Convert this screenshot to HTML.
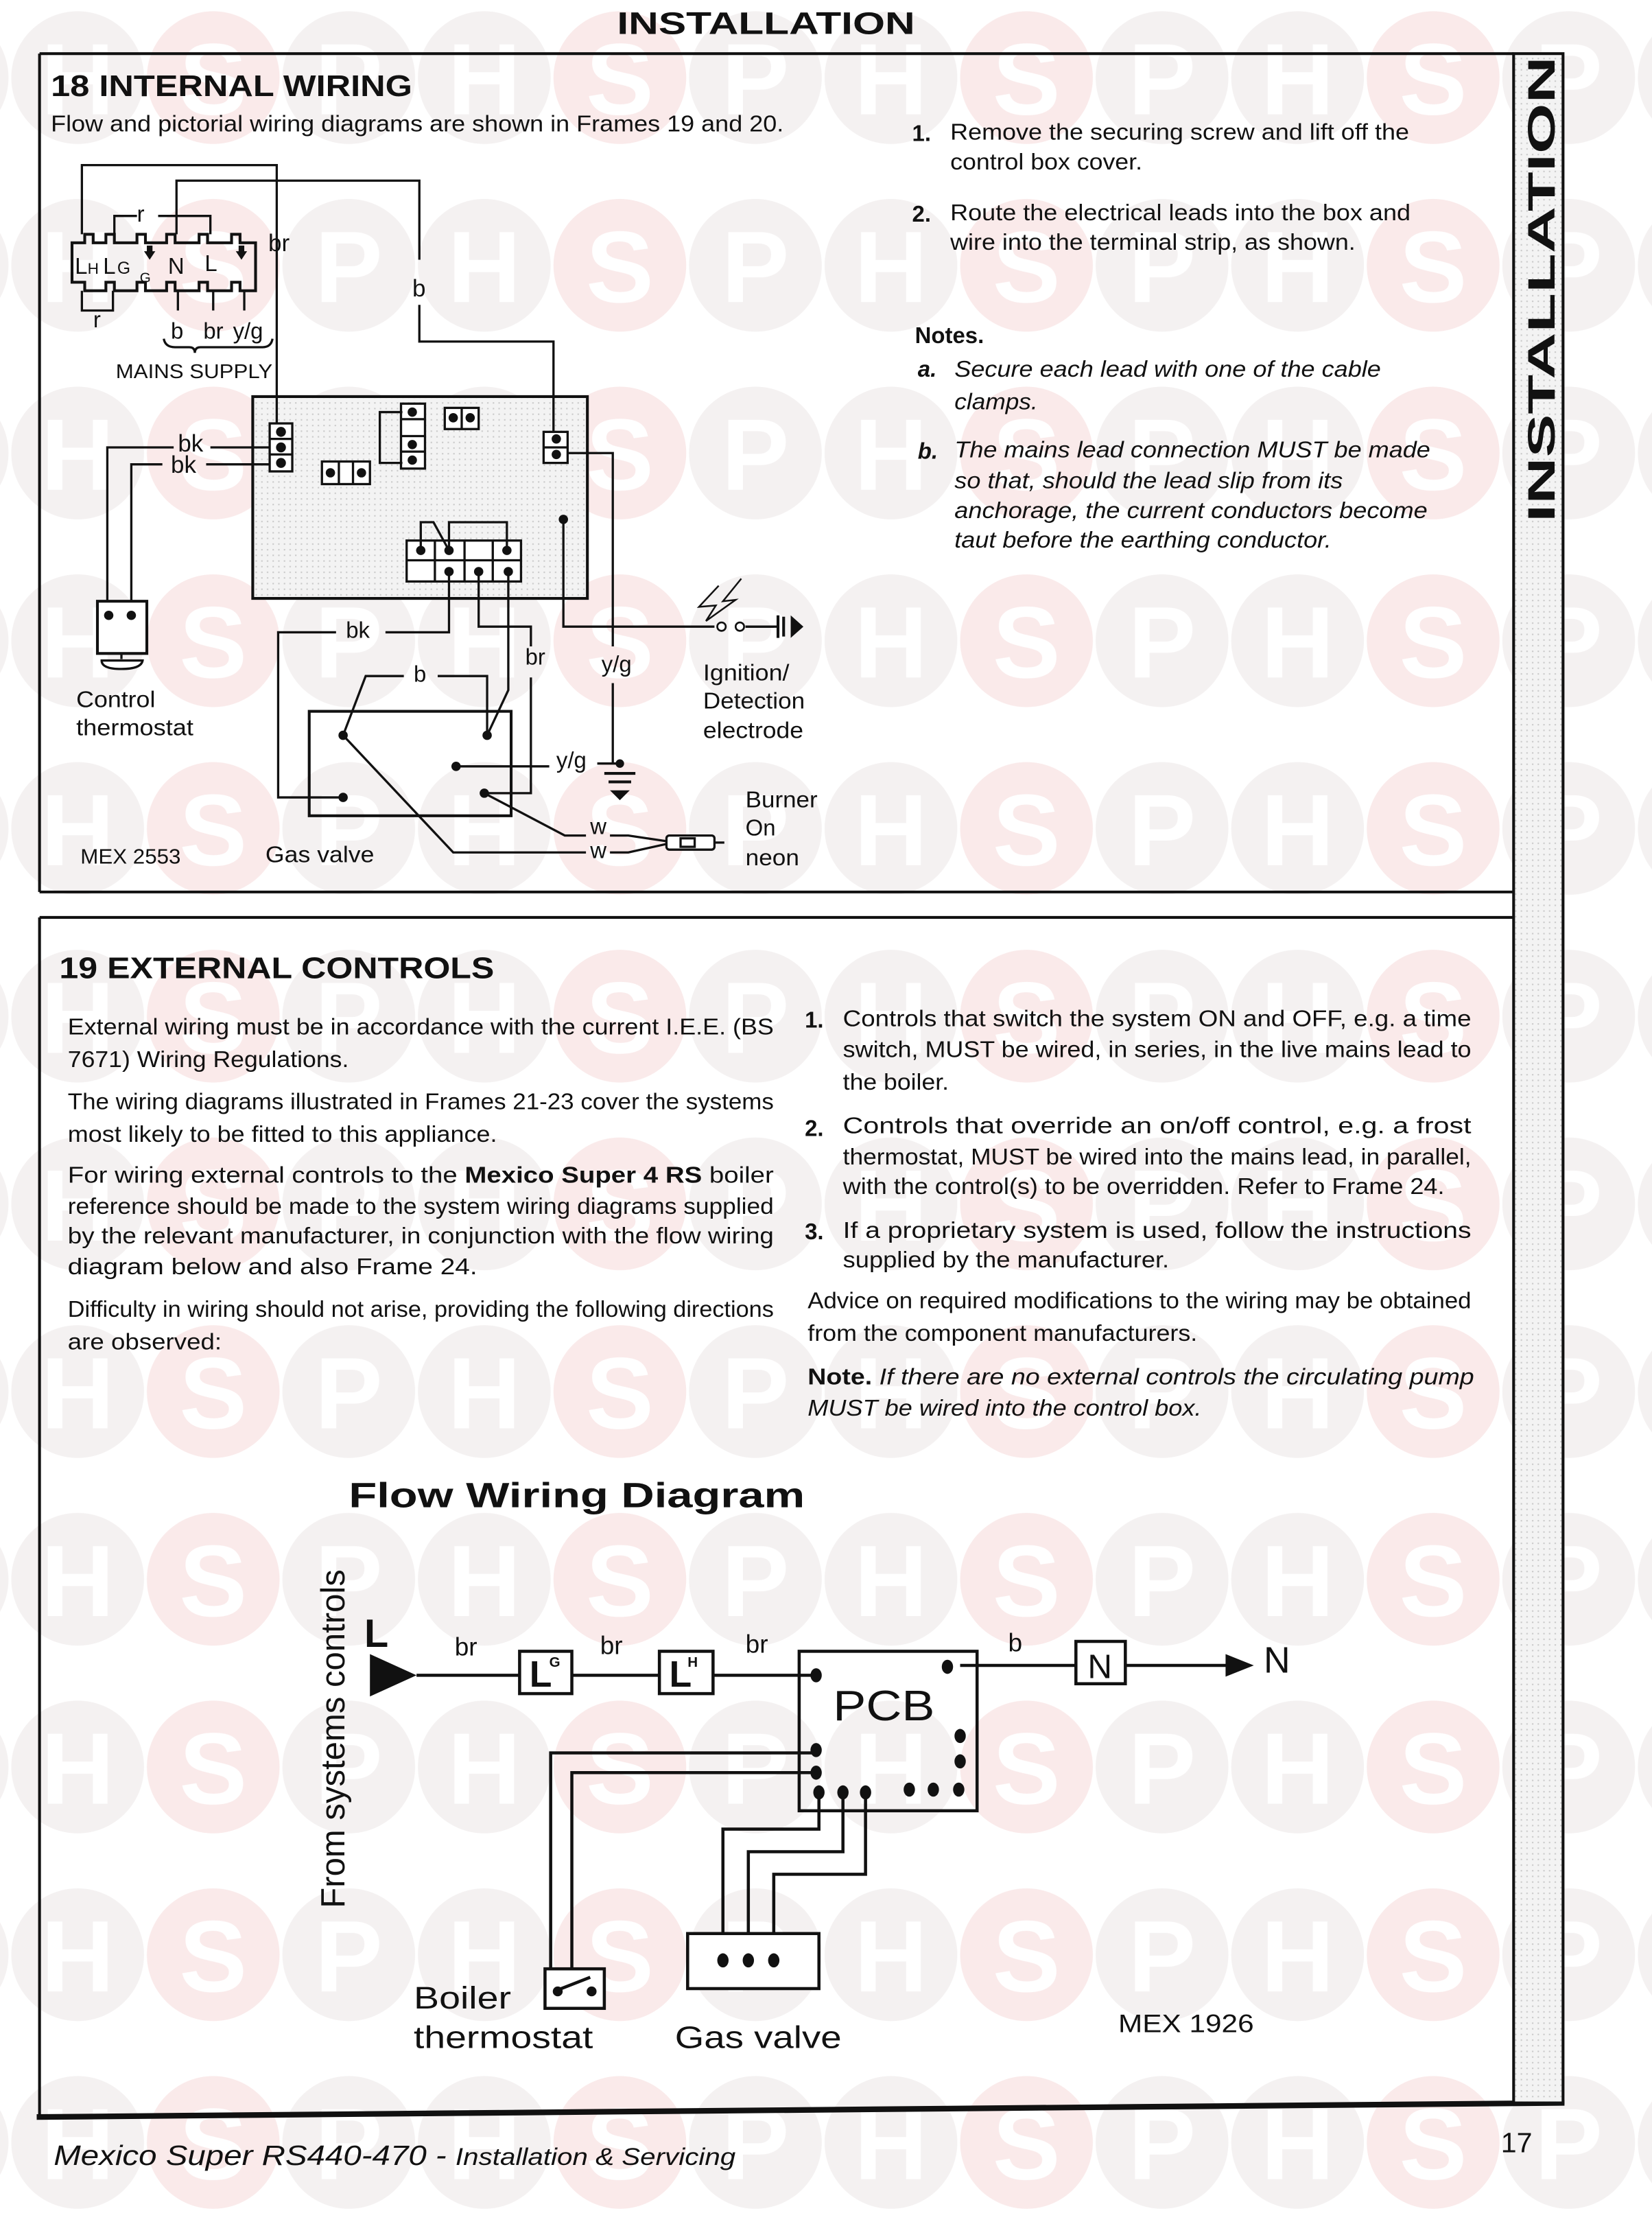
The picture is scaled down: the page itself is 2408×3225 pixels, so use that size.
<!DOCTYPE html>
<html><head><meta charset="utf-8"><style>
html,body{margin:0;padding:0;background:#fff}
svg{display:block}
text{font-family:"Liberation Sans",Arial,sans-serif;fill:#111}
</style></head><body>
<svg width="2408" height="3225" viewBox="0 0 1170 1568" preserveAspectRatio="none" xmlns="http://www.w3.org/2000/svg">
<defs>
<pattern id="wm" x="7" y="7" width="288" height="133" patternUnits="userSpaceOnUse">
<circle cx="48" cy="48" r="47" fill="#f4f1f1"/>
<circle cx="144" cy="48" r="47" fill="#faeaea"/>
<circle cx="240" cy="48" r="47" fill="#f4f1f1"/>
<text x="48" y="74" font-size="72" font-weight="bold" text-anchor="middle" style="fill:#fff">H</text>
<text x="144" y="74" font-size="72" font-weight="bold" text-anchor="middle" style="fill:#fff">S</text>
<text x="240" y="74" font-size="72" font-weight="bold" text-anchor="middle" style="fill:#fff">P</text>
</pattern>
<pattern id="dots" width="4" height="4" patternUnits="userSpaceOnUse">
<rect width="4" height="4" fill="#f3f3f3"/><rect x="1" y="1" width="1" height="1" fill="#c8c8c8"/>
</pattern>
</defs>
<rect width="1170" height="1568" fill="url(#wm)"/>

<text x="437" y="24" font-size="22" font-weight="bold" textLength="211" lengthAdjust="spacingAndGlyphs">INSTALLATION</text>

<g stroke="#111" fill="none">
<line x1="28" y1="38" x2="1072" y2="38" stroke-width="2"/>
<line x1="28" y1="38" x2="28" y2="632" stroke-width="2"/>
<line x1="28" y1="632" x2="1072" y2="632" stroke-width="2"/>
<line x1="28" y1="650" x2="1072" y2="650" stroke-width="2"/>
<line x1="28" y1="650" x2="28" y2="1500" stroke-width="2"/>
<line x1="26" y1="1500" x2="1108" y2="1490" stroke-width="4"/>
</g>
<rect x="1072" y="38" width="35" height="1452" fill="url(#dots)" stroke="#111" stroke-width="2"/>
<text transform="translate(1101,205) rotate(-90)" font-size="27" font-weight="bold" text-anchor="middle" textLength="330" lengthAdjust="spacingAndGlyphs">INSTALLATION</text>

<text x="36" y="68" font-size="21" font-weight="bold" textLength="256" lengthAdjust="spacingAndGlyphs">18  INTERNAL WIRING</text>
<text x="36" y="93" font-size="16" textLength="519" lengthAdjust="spacingAndGlyphs">Flow and pictorial wiring diagrams are shown in Frames 19 and 20.</text>
<g font-size="16">
<text x="646" y="100" font-weight="bold">1.</text><text x="673" y="99" textLength="325" lengthAdjust="spacingAndGlyphs">Remove the securing screw and lift off the</text>
<text x="673" y="120" textLength="136" lengthAdjust="spacingAndGlyphs">control box cover.</text>
<text x="646" y="157" font-weight="bold">2.</text><text x="673" y="156" textLength="326" lengthAdjust="spacingAndGlyphs">Route the electrical leads into the box and</text>
<text x="673" y="177" textLength="287" lengthAdjust="spacingAndGlyphs">wire into the terminal strip, as shown.</text>
<text x="648" y="243" font-weight="bold">Notes.</text>
<text x="650" y="267" font-weight="bold" font-style="italic">a.</text>
<text x="676" y="267" font-style="italic" textLength="302" lengthAdjust="spacingAndGlyphs">Secure each lead with one of the cable</text>
<text x="676" y="290" font-style="italic" textLength="59" lengthAdjust="spacingAndGlyphs">clamps.</text>
<text x="650" y="325" font-weight="bold" font-style="italic">b.</text>
<text x="676" y="324" font-style="italic" textLength="337" lengthAdjust="spacingAndGlyphs">The mains lead connection MUST be made</text>
<text x="676" y="346" font-style="italic" textLength="275" lengthAdjust="spacingAndGlyphs">so that, should the lead slip from its</text>
<text x="676" y="367" font-style="italic" textLength="335" lengthAdjust="spacingAndGlyphs">anchorage, the current conductors become</text>
<text x="676" y="388" font-style="italic" textLength="267" lengthAdjust="spacingAndGlyphs">taut before the earthing conductor.</text>
</g>

<rect x="179" y="281" width="237" height="143" fill="url(#dots)" stroke="#111" stroke-width="2"/>
<g stroke="#111" stroke-width="1.6" fill="none">
<path d="M51 172 H60 V166 H66 V172 H75 V166 H81 V172 H97 V166 H103 V172 H118 V166 H124 V172 H141 V166 H147 V172 H164 V166 H170 V172 H181 V206 H170 V200 H164 V206 H147 V200 H141 V206 H124 V200 H118 V206 H103 V200 H97 V206 H81 V200 H75 V206 H60 V200 H51 Z" stroke-width="2"/>
<path d="M58 166 V117 H196 V300"/>
<path d="M125 166 V128 H297 V184"/>
<path d="M297 216 V242 H392 V307"/>
<path d="M81 166 V153 H97"/><path d="M112 153 H149 V166"/>
<path d="M58 206 V220 H80 V206"/>
<path d="M126 206 V220 M151 206 V220 M173 206 V220"/>
<path d="M116 240 Q117 246 124 246 H134 Q138 246 138 250 Q138 246 142 246 H186 Q192 246 193 240"/>
<path d="M76 436 V317 H123 M149 317 H191"/>
<path d="M93 436 V329 H115 M146 329 H191"/>
<rect x="191" y="300" width="16" height="34" fill="#fff"/>
<path d="M191 311 H207 M191 322 H207"/>
<rect x="284" y="286" width="17" height="46" fill="#fff"/>
<path d="M284 297 H301 M284 309 H301 M284 320 H301"/>
<path d="M285 292 H269 V328 H285"/>
<rect x="315" y="289" width="24" height="15" fill="#fff"/><path d="M327 289 V304"/>
<rect x="228" y="327" width="34" height="16" fill="#fff"/><path d="M240 327 V343 M250 327 V343"/>
<rect x="385" y="306" width="17" height="22" fill="#fff"/><path d="M385 317 H402"/>
<rect x="288" y="383" width="81" height="29" fill="#fff"/>
<path d="M288 397 H369 M308 383 V412 M329 383 V412 M349 383 V412"/>
<path d="M298 390 V370 H307 L318 390 M318 390 V370 H359 V390"/>
<path d="M402 321 H434 V458 M434 484 V541"/>
<path d="M399 368 V444 H506 M528 444 H551"/>
<rect x="69" y="426" width="35" height="37" fill="#fff" stroke-width="2"/>
<path d="M86 463 V467 M72 468 H101 Q100 474 86 474 Q72 474 72 468 Z" fill="#fff"/>
<rect x="219" y="504" width="143" height="74" stroke-width="2"/>
<path d="M318 406 V448 H273 M238 448 H197 V565 H243"/>
<path d="M339 406 V444 H376 V458 M376 480 V562 H343"/>
<path d="M360 406 V489 L345 521"/>
<path d="M243 521 L259 479 H286 M310 479 H345 V521"/>
<path d="M323 543 H389 M423 541 H439"/>
<path d="M343 562 L400 592 H415 M432 592 H445 L472 596"/>
<path d="M243 521 L321 604 H415 M432 604 H445 L472 598"/>
<rect x="472" y="592" width="34" height="10" rx="2" fill="#fff"/>
<rect x="482" y="594" width="10" height="6"/>
<path d="M506 597 H513"/>
<path d="M428 548 H450 M431 554 H447" stroke-width="2"/>
<path d="M509 415 L495 430 L507 429 L500 440 L521 425 L512 426 L525 410" stroke-width="1.2"/>
<path d="M528 444 H548"/>
<path d="M551 436 V452 M555 437 V451" stroke-width="2"/>
</g>
<g fill="#111">
<circle cx="199" cy="306" r="3.5"/><circle cx="199" cy="317" r="3.5"/><circle cx="199" cy="328" r="3.5"/>
<circle cx="292" cy="292" r="3.3"/><circle cx="292" cy="315" r="3.3"/><circle cx="292" cy="326" r="3.3"/>
<circle cx="321" cy="296" r="3.3"/><circle cx="333" cy="296" r="3.3"/>
<circle cx="234" cy="335" r="3.3"/><circle cx="256" cy="335" r="3.3"/>
<circle cx="394" cy="311" r="3.3"/><circle cx="394" cy="322" r="3.3"/>
<circle cx="298" cy="390" r="3.3"/><circle cx="318" cy="390" r="3.3"/><circle cx="359" cy="390" r="3.3"/>
<circle cx="318" cy="405" r="3.3"/><circle cx="339" cy="405" r="3.3"/><circle cx="360" cy="405" r="3.3"/>
<circle cx="399" cy="368" r="3.3"/>
<circle cx="77" cy="436" r="3.3"/><circle cx="93" cy="436" r="3.3"/>
<circle cx="243" cy="521" r="3.3"/><circle cx="345" cy="521" r="3.3"/><circle cx="323" cy="543" r="3.3"/>
<circle cx="343" cy="562" r="3.3"/><circle cx="243" cy="565" r="3.3"/>
<circle cx="439" cy="541" r="3"/>
<path d="M102 178 h2 v-4 h4 v4 h2 l-4 6 z M167 178 h2 v-4 h4 v4 h2 l-4 6 z"/>
<path d="M432 560 H446 L439 567 Z"/>
<path d="M560 436 L569 444 L560 452 Z"/>
</g>
<circle cx="511" cy="444" r="3" fill="#fff" stroke="#111" stroke-width="1.3"/>
<circle cx="524" cy="444" r="3" fill="#fff" stroke="#111" stroke-width="1.3"/>
<g font-size="16">
<text x="53" y="194">L</text><text x="62" y="194" font-size="11">H</text>
<text x="73" y="194">L</text><text x="83" y="194" font-size="12">G</text>
<text x="99" y="200" font-size="10">G</text>
<text x="119" y="194">N</text><text x="145" y="192">L</text>
</g>
<g font-size="16">
<text x="97" y="157">r</text>
<text x="66" y="232">r</text>
<text x="190" y="178" font-size="17">br</text>
<text x="292" y="210" font-size="17">b</text>
<text x="121" y="240">b</text><text x="144" y="240">br</text><text x="165" y="240">y/g</text>
<text x="82" y="268" font-size="14" textLength="111" lengthAdjust="spacingAndGlyphs">MAINS SUPPLY</text>
<text x="126" y="320" font-size="17">bk</text>
<text x="121" y="335" font-size="17">bk</text>
<text x="245" y="452">bk</text>
<text x="372" y="471">br</text>
<text x="293" y="483">b</text>
<text x="426" y="476">y/g</text>
<text x="394" y="544">y/g</text>
<text x="418" y="591">w</text><text x="418" y="608">w</text>
<text x="54" y="501" textLength="56" lengthAdjust="spacingAndGlyphs">Control</text><text x="54" y="521" textLength="83" lengthAdjust="spacingAndGlyphs">thermostat</text>
<text x="498" y="482" textLength="61" lengthAdjust="spacingAndGlyphs">Ignition/</text><text x="498" y="502" textLength="72" lengthAdjust="spacingAndGlyphs">Detection</text><text x="498" y="523" textLength="71" lengthAdjust="spacingAndGlyphs">electrode</text>
<text x="528" y="572" textLength="51" lengthAdjust="spacingAndGlyphs">Burner</text><text x="528" y="592">On</text><text x="528" y="613" textLength="38" lengthAdjust="spacingAndGlyphs">neon</text>
<text x="57" y="612" font-size="15" textLength="71" lengthAdjust="spacingAndGlyphs">MEX 2553</text>
<text x="188" y="611" textLength="77" lengthAdjust="spacingAndGlyphs">Gas valve</text>
</g>

<text x="42" y="693" font-size="21" font-weight="bold" textLength="308" lengthAdjust="spacingAndGlyphs">19  EXTERNAL CONTROLS</text>
<g font-size="16">
<text x="48" y="733" textLength="500" lengthAdjust="spacingAndGlyphs">External wiring must be in accordance with the current I.E.E. (BS</text>
<text x="48" y="756" textLength="199" lengthAdjust="spacingAndGlyphs">7671) Wiring Regulations.</text>
<text x="48" y="786" textLength="500" lengthAdjust="spacingAndGlyphs">The wiring diagrams illustrated in Frames 21-23 cover the systems</text>
<text x="48" y="809" textLength="304" lengthAdjust="spacingAndGlyphs">most likely to be fitted to this appliance.</text>
<text x="48" y="838" textLength="500" lengthAdjust="spacingAndGlyphs">For wiring external controls to the <tspan font-weight="bold">Mexico Super 4 RS</tspan> boiler</text>
<text x="48" y="860" textLength="500" lengthAdjust="spacingAndGlyphs">reference should be made to the system wiring diagrams supplied</text>
<text x="48" y="881" textLength="500" lengthAdjust="spacingAndGlyphs">by the relevant manufacturer, in conjunction with the flow wiring</text>
<text x="48" y="903" textLength="290" lengthAdjust="spacingAndGlyphs">diagram below and also Frame 24.</text>
<text x="48" y="933" textLength="500" lengthAdjust="spacingAndGlyphs">Difficulty in wiring should not arise, providing the following directions</text>
<text x="48" y="956" textLength="109" lengthAdjust="spacingAndGlyphs">are observed:</text>

<text x="570" y="728" font-weight="bold">1.</text>
<text x="597" y="727" textLength="445" lengthAdjust="spacingAndGlyphs">Controls that switch the system ON and OFF, e.g. a time</text>
<text x="597" y="749" textLength="445" lengthAdjust="spacingAndGlyphs">switch, MUST be wired, in series, in the live mains lead to</text>
<text x="597" y="772" textLength="75" lengthAdjust="spacingAndGlyphs">the boiler.</text>
<text x="570" y="805" font-weight="bold">2.</text>
<text x="597" y="803" textLength="445" lengthAdjust="spacingAndGlyphs">Controls that override an on/off control, e.g. a frost</text>
<text x="597" y="825" textLength="445" lengthAdjust="spacingAndGlyphs">thermostat, MUST be wired into the mains lead, in parallel,</text>
<text x="597" y="846" textLength="426" lengthAdjust="spacingAndGlyphs">with the control(s) to be overridden. Refer to Frame 24.</text>
<text x="570" y="878" font-weight="bold">3.</text>
<text x="597" y="877" textLength="445" lengthAdjust="spacingAndGlyphs">If a proprietary system is used, follow the instructions</text>
<text x="597" y="898" textLength="231" lengthAdjust="spacingAndGlyphs">supplied by the manufacturer.</text>
<text x="572" y="927" textLength="470" lengthAdjust="spacingAndGlyphs">Advice on required modifications to the wiring may be obtained</text>
<text x="572" y="950" textLength="276" lengthAdjust="spacingAndGlyphs">from the component manufacturers.</text>
<text x="572" y="981" textLength="472" lengthAdjust="spacingAndGlyphs"><tspan font-weight="bold">Note.</tspan> <tspan font-style="italic">If there are no external controls the circulating pump</tspan></text>
<text x="572" y="1003" font-style="italic" textLength="279" lengthAdjust="spacingAndGlyphs">MUST be wired into the control box.</text>
</g>

<text x="247" y="1068" font-size="25" font-weight="bold" textLength="323" lengthAdjust="spacingAndGlyphs">Flow Wiring Diagram</text>
<text transform="translate(244,1232) rotate(-90)" font-size="24" text-anchor="middle" textLength="240" lengthAdjust="spacingAndGlyphs">From systems controls</text>
<text x="258" y="1167" font-size="28" font-weight="bold">L</text>
<path d="M262 1172 L295 1187 L262 1202 Z" fill="#111"/>
<g stroke="#111" stroke-width="2.2" fill="none">
<path d="M295 1187 H368 M405 1187 H467 M505 1187 H576 M680 1180 H762 M797 1180 H870"/>
<rect x="368" y="1170" width="37" height="30" fill="#fff"/>
<rect x="467" y="1170" width="38" height="30" fill="#fff"/>
<rect x="762" y="1163" width="35" height="30" fill="#fff"/>
<rect x="566" y="1170" width="126" height="113"/>
<path d="M390 1395 V1242 H578 M405 1395 V1256 H578"/>
<path d="M512 1390 V1296 H580 V1270 M530 1390 V1312 H597 V1270 M548 1390 V1328 H613 V1270"/>
<rect x="386" y="1395" width="42" height="28" fill="#fff"/>
<rect x="487" y="1370" width="93" height="39" fill="#fff"/>
<path d="M395 1410 L418 1401"/>
</g>
<path d="M868 1172 L888 1180 L868 1188 Z" fill="#111"/>
<text x="375" y="1195" font-size="26" font-weight="bold">L</text><text x="389" y="1181" font-size="10" font-weight="bold">G</text>
<text x="474" y="1195" font-size="26" font-weight="bold">L</text><text x="487" y="1181" font-size="10" font-weight="bold">H</text>
<text x="779" y="1189" font-size="24" text-anchor="middle">N</text>
<text x="895" y="1185" font-size="26">N</text>
<g font-size="18"><text x="322" y="1173">br</text><text x="425" y="1172">br</text><text x="528" y="1171">br</text><text x="714" y="1170">b</text></g>
<text x="626" y="1219" font-size="30" text-anchor="middle" textLength="72" lengthAdjust="spacingAndGlyphs">PCB</text>
<g fill="#111">
<ellipse cx="578" cy="1187" rx="4" ry="5"/><ellipse cx="671" cy="1181" rx="4" ry="5"/>
<ellipse cx="680" cy="1230" rx="4" ry="5"/><ellipse cx="680" cy="1248" rx="4" ry="5"/>
<ellipse cx="578" cy="1240" rx="4" ry="5"/><ellipse cx="578" cy="1256" rx="4" ry="5"/>
<ellipse cx="580" cy="1270" rx="4" ry="5"/><ellipse cx="597" cy="1270" rx="4" ry="5"/><ellipse cx="613" cy="1270" rx="4" ry="5"/>
<ellipse cx="644" cy="1268" rx="4" ry="5"/><ellipse cx="661" cy="1268" rx="4" ry="5"/><ellipse cx="679" cy="1268" rx="4" ry="5"/>
<ellipse cx="512" cy="1389" rx="4" ry="5"/><ellipse cx="530" cy="1389" rx="4" ry="5"/><ellipse cx="548" cy="1389" rx="4" ry="5"/>
<circle cx="395" cy="1411" r="3.5"/><circle cx="419" cy="1411" r="3.5"/>
</g>
<text x="293" y="1423" font-size="22" textLength="69" lengthAdjust="spacingAndGlyphs">Boiler</text>
<text x="293" y="1451" font-size="22" textLength="127" lengthAdjust="spacingAndGlyphs">thermostat</text>
<text x="478" y="1451" font-size="22" textLength="118" lengthAdjust="spacingAndGlyphs">Gas valve</text>
<text x="792" y="1440" font-size="18" textLength="96" lengthAdjust="spacingAndGlyphs">MEX 1926</text>

<text x="38" y="1534" font-size="20" font-style="italic" textLength="483" lengthAdjust="spacingAndGlyphs">Mexico Super RS440-470 - <tspan font-size="17">Installation &amp; Servicing</tspan></text>
<text x="1063" y="1525" font-size="20">17</text>
</svg>
</body></html>
